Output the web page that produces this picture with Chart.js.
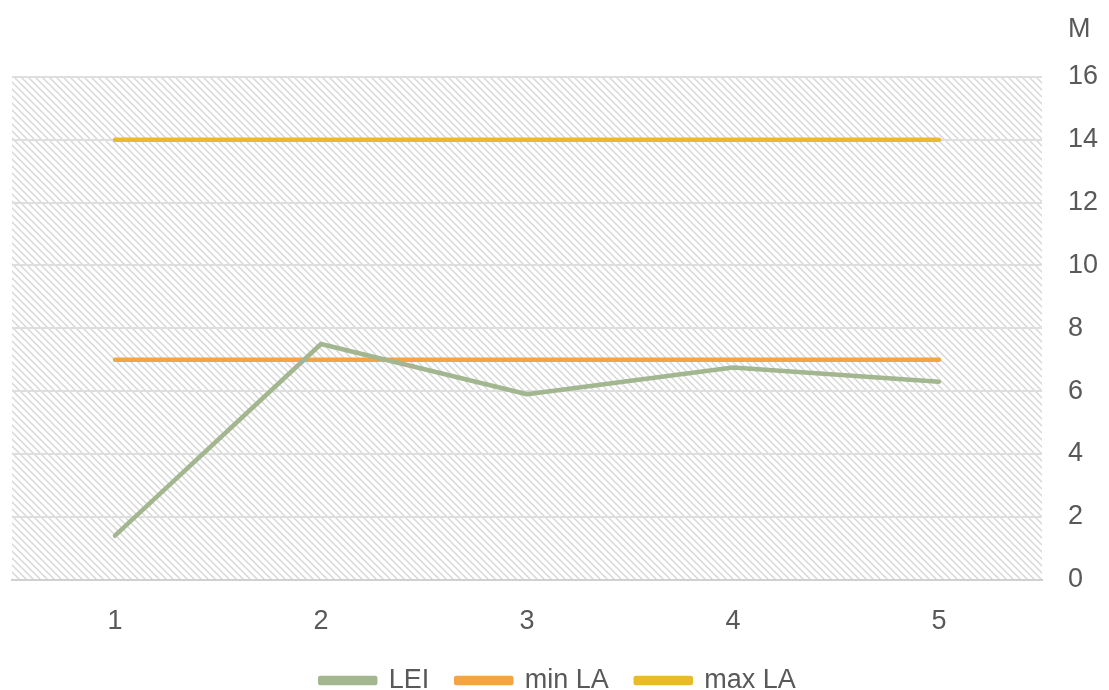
<!DOCTYPE html>
<html>
<head>
<meta charset="utf-8">
<script src="https://cdn.jsdelivr.net/npm/chart.js@4"></script>
<style>
  html, body { margin: 0; padding: 0; background: #fff; }
  #wrap { width: 1109px; height: 690px; position: relative; }
</style>
</head>
<body>
<div id="wrap"><canvas id="chart"></canvas></div>
<script>
const categories = ["1", "2", "3", "4", "5"];
const leiValues = [1.4, 7.5, 5.9, 6.75, 6.3];
const minLaValues = [7, 7, 7, 7, 7];
const maxLaValues = [14, 14, 14, 14, 14];
const axisUnit = "M";

const textColor = "#595959";
const fontFamily = "'Liberation Sans', Arial, sans-serif";
const yLabelPad = 26;

function makeHatch() {
  const c = document.createElement("canvas");
  c.width = 7; c.height = 7;
  const g = c.getContext("2d");
  g.strokeStyle = "#d8d8d8";
  g.lineWidth = 1.5;
  g.beginPath();
  g.moveTo(-1, -1); g.lineTo(8, 8);
  g.moveTo(-8, -1); g.lineTo(1, 8);
  g.moveTo(6, -1); g.lineTo(15, 8);
  g.stroke();
  return c;
}

const hatchBg = {
  id: "hatchBg",
  beforeDraw(chart) {
    const { ctx, chartArea: a } = chart;
    ctx.save();
    ctx.fillStyle = ctx.createPattern(makeHatch(), "repeat");
    ctx.fillRect(a.left, a.top, a.right - a.left, a.bottom - a.top);
    ctx.restore();
  }
};

// unit label above the right axis, lined up with the tick labels
const unitLabel = {
  id: "unitLabel",
  afterDraw(chart) {
    const { ctx } = chart;
    const y = chart.scales.y;
    ctx.save();
    ctx.fillStyle = textColor;
    ctx.font = "27px " + fontFamily;
    ctx.textAlign = "left";
    ctx.textBaseline = "middle";
    ctx.fillText(axisUnit, y.left + yLabelPad, 30);
    ctx.restore();
  }
};

const lineStyle = { borderWidth: 4.5, pointRadius: 0, tension: 0, borderCapStyle: "round", borderJoinStyle: "round" };

new Chart(document.getElementById("chart"), {
  type: "line",
  data: {
    labels: categories,
    datasets: [
      { label: "LEI", data: leiValues, borderColor: "#a2b78f", backgroundColor: "#a2b78f", ...lineStyle },
      { label: "min LA", data: minLaValues, borderColor: "#f4a444", backgroundColor: "#f4a444", ...lineStyle },
      { label: "max LA", data: maxLaValues, borderColor: "#e8bb2b", backgroundColor: "#e8bb2b", ...lineStyle }
    ]
  },
  options: {
    responsive: true,
    maintainAspectRatio: false,
    animation: false,
    layout: { padding: { left: 12, right: 5, top: 77, bottom: 0 } },
    scales: {
      x: {
        offset: true,
        grid: { display: false, drawTicks: false },
        border: { display: true, color: "#d0d0d0", width: 2 },
        ticks: { color: textColor, font: { size: 27, family: fontFamily }, padding: 26 },
        afterFit(scale) { scale.height -= 24; }
      },
      y: {
        position: "right",
        min: 0, max: 16,
        ticks: { stepSize: 2, color: textColor, font: { size: 27, family: fontFamily }, padding: yLabelPad },
        grid: { color: "#dedede", lineWidth: 2, drawTicks: false },
        border: { display: false },
        afterFit(scale) { scale.width = yLabelPad + 36; }
      }
    },
    plugins: {
      legend: {
        position: "bottom",
        maxHeight: 50,
        labels: {
          color: textColor,
          font: { size: 27, family: fontFamily },
          boxWidth: 55, boxHeight: 5, padding: 27
        }
      },
      tooltip: { enabled: false }
    }
  },
  plugins: [hatchBg, unitLabel]
});
</script>
</body>
</html>
